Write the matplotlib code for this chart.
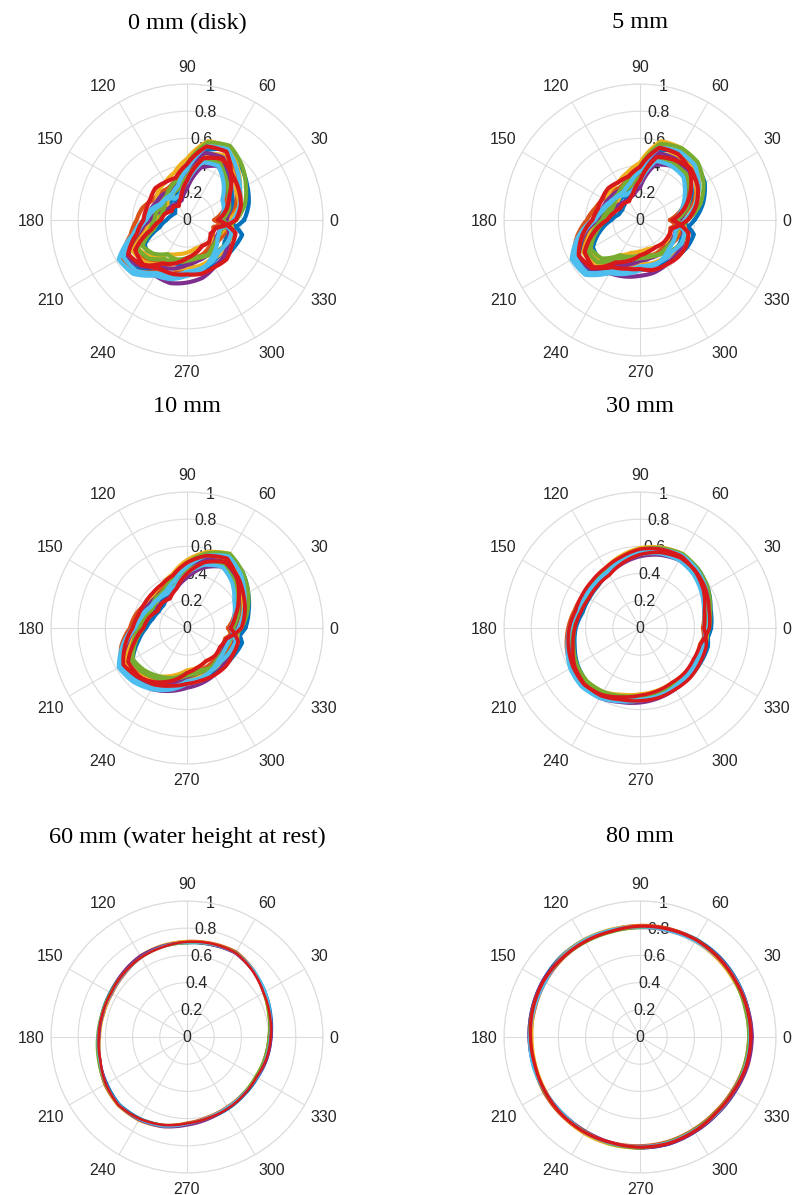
import numpy as np
import matplotlib
matplotlib.use('Agg')
import matplotlib.pyplot as plt

# angles (deg) at which the radii were read; a trace may run several revolutions
angles_deg = np.arange(0, 360, 15)
theta_ticks = list(range(0, 360, 30))
r_ticks = [0, 0.2, 0.4, 0.6, 0.8, 1.0]
r_tick_labels = ['0', '0.2', '0.4', '0.6', '0.8', '1']
titles = ['0 mm (disk)', '5 mm', '10 mm', '30 mm',
          '60 mm (water height at rest)', '80 mm']
colors = ['#0072BD', '#D95319', '#EDB120', '#7E2F8E', '#77AC30', '#4DBEEE', '#D7191C']

# radii in hundredths of unit radius (angles 0..345 step 15, repeated per revolution)
r_0mm = [
    [42, 47, 51, 56, 60, 53, 35, 23, 16, 12, 10, 12, 15, 21, 36, 38, 34, 33, 33, 37, 39, 39, 40, 42,
     30, 35, 38, 44, 49, 47, 30, 20, 18, 18, 19, 23, 26, 34, 50, 50, 44, 41, 39, 38, 36, 35, 32, 31],
    [20, 28, 32, 39, 49, 50, 36, 27, 27, 28, 29, 34, 37, 43, 55, 53, 44, 41, 34, 29, 27, 25, 22, 20,
     31, 37, 42, 50, 59, 56, 39, 30, 27, 26, 23, 25, 26, 32, 46, 42, 34, 32, 30, 28, 28, 27, 28, 30],
    [31, 40, 45, 53, 62, 60, 45, 36, 32, 30, 26, 26, 26, 31, 42, 38, 29, 26, 24, 22, 22, 23, 25, 28,
     35, 40, 42, 48, 55, 50, 33, 24, 22, 20, 16, 19, 22, 29, 46, 44, 38, 37, 35, 35, 34, 35, 34, 35],
    [29, 32, 35, 39, 46, 40, 23, 15, 14, 15, 16, 22, 27, 37, 53, 53, 47, 48, 46, 44, 40, 38, 35, 32,
     26, 31, 36, 44, 53, 51, 36, 27, 24, 26, 26, 28, 30, 38, 53, 48, 40, 37, 33, 31, 30, 27, 25, 25],
    [36, 44, 50, 57, 63, 59, 41, 30, 26, 22, 19, 19, 20, 25, 38, 35, 29, 30, 28, 28, 30, 32, 34, 35,
     26, 32, 35, 41, 48, 46, 31, 24, 22, 23, 21, 23, 24, 28, 42, 40, 33, 32, 30, 29, 30, 27, 26, 26],
    [24, 28, 30, 38, 46, 44, 28, 19, 18, 22, 23, 28, 32, 41, 58, 56, 47, 45, 41, 39, 34, 30, 26, 25,
     34, 40, 45, 52, 60, 56, 37, 26, 22, 22, 22, 26, 30, 38, 54, 53, 45, 42, 38, 37, 36, 33, 34, 34],
    [23, 30, 36, 46, 58, 56, 41, 32, 32, 33, 31, 31, 32, 38, 50, 47, 37, 33, 28, 25, 22, 23, 20, 22,
     36, 41, 44, 47, 52, 47, 29, 17, 12, 14, 13, 17, 19, 27, 44, 46, 41, 41, 40, 41, 40, 41, 38, 37],
]
r_5mm = [
    [40, 48, 55, 58, 58, 53, 34, 25, 19, 16, 15, 16, 21, 30, 40, 42, 34, 31, 30, 34, 37, 38, 40, 41,
     30, 38, 44, 50, 49, 48, 30, 23, 21, 21, 22, 25, 30, 41, 52, 52, 42, 37, 35, 35, 34, 34, 34, 32],
    [22, 32, 39, 46, 49, 50, 35, 29, 28, 29, 31, 34, 39, 48, 56, 55, 42, 37, 31, 28, 27, 26, 25, 23,
     31, 40, 48, 55, 57, 55, 37, 31, 28, 27, 26, 27, 30, 39, 48, 46, 34, 30, 28, 27, 28, 28, 30, 31],
    [31, 42, 50, 58, 61, 60, 42, 36, 32, 31, 28, 28, 30, 38, 45, 42, 30, 25, 23, 22, 23, 24, 28, 29,
     34, 42, 48, 54, 54, 50, 32, 26, 24, 22, 20, 22, 27, 37, 48, 47, 37, 34, 32, 33, 33, 34, 35, 35],
    [29, 36, 42, 46, 46, 42, 24, 19, 17, 18, 20, 24, 31, 43, 54, 55, 45, 43, 41, 40, 38, 37, 36, 33,
     27, 35, 43, 50, 52, 51, 35, 29, 26, 27, 28, 29, 33, 44, 54, 51, 39, 34, 30, 29, 29, 28, 28, 27],
    [35, 46, 54, 60, 61, 58, 39, 31, 27, 24, 22, 22, 25, 33, 42, 40, 30, 28, 26, 27, 29, 32, 35, 35,
     27, 36, 42, 48, 48, 47, 31, 26, 24, 25, 24, 25, 28, 36, 45, 44, 33, 30, 28, 28, 29, 28, 29, 28],
    [25, 32, 38, 45, 46, 45, 28, 22, 21, 24, 26, 29, 35, 47, 58, 57, 45, 41, 37, 36, 33, 30, 29, 27,
     33, 42, 50, 57, 58, 55, 36, 28, 24, 24, 25, 28, 33, 44, 55, 55, 43, 38, 34, 34, 34, 33, 35, 34],
    [24, 34, 43, 52, 56, 55, 39, 33, 32, 33, 32, 32, 35, 44, 52, 50, 36, 31, 26, 24, 23, 24, 24, 24,
     35, 43, 49, 53, 51, 48, 29, 20, 16, 17, 17, 20, 24, 35, 47, 49, 40, 37, 36, 38, 38, 39, 39, 37],
]
r_10mm = [
    [43, 47, 52, 58, 61, 53, 44, 34, 27, 24, 24, 26, 30, 37, 46, 45, 44, 40, 36, 38, 38, 39, 40, 42,
     36, 40, 45, 51, 54, 50, 41, 32, 29, 28, 29, 32, 36, 45, 54, 52, 50, 44, 40, 38, 36, 36, 35, 36],
    [30, 36, 41, 48, 54, 51, 45, 36, 34, 34, 35, 39, 42, 50, 56, 54, 50, 44, 37, 34, 32, 30, 29, 29,
     37, 42, 47, 54, 60, 55, 46, 38, 34, 32, 31, 34, 36, 43, 52, 48, 44, 39, 35, 32, 32, 32, 33, 35],
    [37, 43, 49, 56, 63, 58, 50, 41, 37, 35, 33, 34, 36, 43, 48, 45, 41, 36, 31, 30, 28, 29, 31, 34,
     39, 43, 47, 53, 58, 51, 43, 34, 31, 30, 27, 30, 34, 42, 52, 49, 46, 42, 38, 36, 36, 36, 36, 38],
    [35, 39, 43, 48, 52, 46, 37, 30, 26, 26, 27, 32, 38, 46, 56, 54, 52, 48, 44, 42, 40, 38, 37, 36,
     34, 38, 44, 51, 56, 52, 45, 36, 32, 32, 33, 35, 38, 47, 56, 51, 48, 42, 36, 34, 34, 32, 31, 32],
    [40, 46, 52, 58, 63, 57, 48, 38, 33, 30, 29, 30, 32, 39, 46, 44, 41, 38, 33, 32, 34, 35, 36, 38,
     34, 39, 43, 49, 53, 49, 42, 34, 31, 32, 30, 32, 35, 41, 48, 46, 43, 39, 35, 34, 34, 32, 32, 33],
    [32, 36, 40, 47, 52, 48, 40, 32, 29, 30, 31, 35, 40, 49, 58, 56, 52, 47, 41, 40, 36, 33, 32, 32,
     38, 43, 49, 56, 61, 55, 45, 36, 31, 30, 31, 34, 38, 47, 56, 54, 51, 45, 39, 38, 36, 35, 36, 37],
    [32, 37, 44, 52, 59, 55, 48, 40, 37, 36, 36, 37, 40, 47, 54, 51, 46, 40, 33, 30, 28, 29, 28, 30,
     40, 44, 48, 53, 56, 50, 40, 30, 25, 26, 25, 29, 32, 40, 50, 50, 48, 44, 41, 40, 40, 40, 39, 39],
]
r_30mm = [
    [52.5, 54, 58, 61, 62, 59, 56, 51.5, 46, 43.5, 43, 43.5, 47, 49.5, 53, 55.5, 55.5, 52.5, 51, 51.5, 51.5, 51.5, 51.5, 52,
     49, 50.5, 54.5, 57.5, 58.5, 57.5, 54.5, 50.5, 47, 45.5, 45.5, 46.5, 50, 53.5, 57, 59, 58.5, 54.5, 53, 52, 50.5, 50, 49, 49],
    [46, 48.5, 52.5, 56, 58.5, 58, 56.5, 52.5, 49.5, 48.5, 48.5, 50, 53, 56, 58.5, 60, 58.5, 54.5, 51.5, 49.5, 48, 47, 46, 45.5,
     49.5, 51.5, 55.5, 59, 61.5, 60, 57, 53.5, 49.5, 47.5, 46.5, 47.5, 50, 52.5, 56, 57, 55.5, 52, 50.5, 49, 48.5, 48, 48, 48.5],
    [49.5, 52, 56.5, 60, 63, 61.5, 59, 55, 51, 49, 47.5, 47.5, 50, 52.5, 54.5, 55.5, 54, 50.5, 48.5, 47.5, 46.5, 46.5, 47, 48,
     50.5, 52, 55.5, 58.5, 60.5, 58, 55.5, 51.5, 48, 46, 44.5, 45.5, 49, 52, 56, 57.5, 56.5, 53.5, 52, 51, 50, 50, 49.5, 50],
    [48.5, 50, 53.5, 56, 57.5, 55.5, 52.5, 49, 45.5, 44.5, 44.5, 46.5, 50.5, 54, 58, 60, 59.5, 56.5, 55, 53.5, 52, 51, 50, 49,
     48, 49.5, 54, 57.5, 59.5, 58.5, 56.5, 52.5, 48.5, 47.5, 47.5, 48, 51, 54.5, 58, 58.5, 57.5, 53.5, 51, 50, 49, 48, 47, 47],
    [51, 53.5, 58, 61, 63, 61, 58, 53.5, 49, 46.5, 45.5, 45.5, 48, 50.5, 53.5, 55, 54, 51.5, 49.5, 49, 49, 49.5, 49.5, 50,
     48, 50, 53.5, 56.5, 58, 57, 55, 51.5, 48, 47, 46, 46.5, 49.5, 51.5, 54.5, 56, 55, 52, 50.5, 49.5, 49, 48, 47.5, 47.5],
    [47, 48.5, 52, 55.5, 57.5, 56.5, 54, 50, 47, 46.5, 46.5, 48, 52, 55.5, 59.5, 61, 59.5, 56, 53.5, 52.5, 50, 48.5, 47.5, 47,
     50, 52, 56.5, 60, 62, 60, 56.5, 52.5, 48, 46.5, 46.5, 47.5, 51, 54.5, 58.5, 60, 59, 55, 52.5, 51.5, 50.5, 49.5, 49.5, 49.5],
    [47, 49, 54, 58, 61, 60, 58, 54, 51, 49.5, 49, 49, 52, 54.5, 57, 58.5, 56.5, 52.5, 49.5, 48, 46.5, 46.5, 45.5, 46,
     51, 52.5, 56, 58.5, 59.5, 57.5, 54, 49.5, 45, 44, 43.5, 45, 48, 51, 55.5, 58, 57.5, 54.5, 53.5, 53, 52, 52, 51, 50.5],
]
r_60mm = [
    [62, 64, 66.5, 69, 71.5, 70, 69, 69, 68, 66.5, 65.5, 65, 65, 66.5, 68, 70, 69, 67, 64, 62, 61, 60, 60, 61],
    [60, 62.5, 65.5, 69.5, 72.5, 71.5, 70.5, 69.5, 67.5, 65, 63.5, 63.5, 65, 67, 70, 71.5, 70, 67, 63, 60.5, 59, 58.5, 58.5, 59],
    [61, 62, 65, 68.5, 71.5, 71, 70.5, 70, 69, 66.5, 64, 63.5, 64, 66, 69.5, 71.5, 71, 68.5, 64.5, 61, 59.5, 58.5, 59, 60.5],
    [62, 63.5, 65, 68.5, 71, 70, 69.5, 69.5, 69, 67, 65, 64, 64.5, 66, 68.5, 71, 70.5, 68.5, 65, 62.5, 60, 58.5, 59.5, 61],
    [60, 62, 65, 69, 72, 70.5, 69, 68.5, 67.5, 66, 65, 65, 66, 67.5, 69.5, 71, 69.5, 67, 63.5, 61.5, 60, 58.5, 58, 59],
    [61, 63.5, 66.5, 69.5, 71.5, 70.5, 69.5, 69, 67.5, 65.5, 64, 64.5, 65.5, 66.5, 69, 70.5, 70, 68, 64, 61, 59.5, 59, 59.5, 60],
    [61.5, 63, 65, 68.5, 71.5, 71, 70, 68.5, 67.5, 66, 64.5, 64.5, 65, 66, 69, 71, 69.5, 67, 63.5, 61.5, 60.5, 59.5, 59, 60.5],
]
r_80mm = [
    [82, 82, 82.5, 83, 83, 82, 81.5, 81.5, 82.5, 83, 82.5, 82, 81.5, 81, 80.5, 80, 80.5, 81, 81.5, 81.5, 80.5, 80, 80.5, 81.5],
    [80, 80.5, 81, 81.5, 82.5, 82.5, 82, 81.5, 81, 81, 80.5, 80, 80, 80.5, 81.5, 81.5, 81.5, 80.5, 80, 79.5, 78.5, 78, 78.5, 79.5],
    [81.5, 81, 80.5, 81, 81.5, 81.5, 81.5, 82, 82.5, 82.5, 81.5, 80.5, 79.5, 79.5, 80, 81, 82, 82, 81.5, 80.5, 79.5, 79, 80, 81],
    [82.5, 82, 82, 82.5, 82, 81, 80.5, 80.5, 81, 82, 82.5, 82, 81.5, 81, 80.5, 80, 80, 80.5, 81.5, 81.5, 80.5, 80, 80.5, 82],
    [80, 80, 81, 82, 82.5, 81.5, 80.5, 80, 80.5, 81.5, 81.5, 81.5, 81, 81, 81, 80.5, 80.5, 81.5, 81.5, 80, 79, 78.5, 79, 79.5],
    [81, 81.5, 82, 82, 81.5, 81, 81, 81.5, 82, 82, 80.5, 80.5, 81, 81.5, 80.5, 80, 81, 81, 80.5, 80.5, 79.5, 79.5, 79.5, 80.5],
    [81.5, 81.5, 81.5, 82, 82.5, 82, 81.5, 80.5, 81, 81.5, 82, 81.5, 80.5, 80, 80.5, 81, 81, 80.5, 81, 81, 80, 79, 79.5, 81],
]

panels = [r_0mm, r_5mm, r_10mm, r_30mm, r_60mm, r_80mm]
line_widths = [3.0, 3.0, 2.8, 2.5, 1.8, 2.4]

W, H = 792, 1195
R = 136
centers = [(187, 220), (640, 220), (187, 628), (640, 628), (187, 1037), (640, 1037)]
title_y = [23, 23, 407, 407, 837, 837]

grid_col = '#dcdcdc'
txt_col = '#262626'
sans = ['Liberation Sans', 'DejaVu Sans']
serif = ['Liberation Serif', 'DejaVu Serif']

fig = plt.figure(figsize=(W / 100, H / 100), dpi=100)
fig.patch.set_facecolor('white')

for i, traces in enumerate(panels):
    cx, cy = centers[i]
    ax = fig.add_axes([(cx - R) / W, 1 - (cy + R) / H, 2 * R / W, 2 * R / H],
                      projection='polar')
    ax.set_ylim(0, 1)
    ax.set_xticks(np.deg2rad(theta_ticks))
    ax.set_xticklabels([])
    ax.set_yticks([0.2, 0.4, 0.6, 0.8, 1.0])
    ax.set_yticklabels([])
    ax.tick_params(length=0)
    ax.grid(True, color=grid_col, lw=0.8)
    ax.spines['polar'].set_color(grid_col)
    ax.spines['polar'].set_linewidth(0.8)
    ax.set_axisbelow(True)

    for k, vals in enumerate(traces):
        n_rev = len(vals) // len(angles_deg)
        th_deg = np.concatenate([angles_deg + 360 * j for j in range(n_rev)] + [[360 * n_rev]])
        r = np.append(vals, vals[0]) / 100.0
        ln, = ax.plot(np.deg2rad(th_deg), r, color=colors[k % len(colors)], lw=line_widths[i],
                      zorder=2, solid_joinstyle='round', solid_capstyle='round')
        # draw each segment as a curve in polar space (rendering only)
        ln.get_path()._interpolation_steps = 8

    for rv, lab in zip(r_ticks, r_tick_labels):
        ax.text(np.deg2rad(80), rv, lab, ha='center', va='center',
                fontsize=11.5, color=txt_col, zorder=1, family=sans)

    for a in theta_ticks:
        ar = np.deg2rad(a)
        c, s = np.cos(ar), np.sin(ar)
        ha = 'left' if c > 0.01 else ('right' if c < -0.01 else 'center')
        va = 'bottom' if s > 0.01 else ('top' if s < -0.01 else 'center_baseline')
        ax.annotate(str(a), xy=(ar, 1.0), xytext=(4.5 * c, 6.5 * s),
                    textcoords='offset points', ha=ha, va=va,
                    fontsize=11.5, color=txt_col, family=sans,
                    annotation_clip=False)

    fig.text(cx / W, 1 - title_y[i] / H, titles[i], ha='center', va='center',
             fontsize=17.5, color='black', family=serif)

fig.savefig('out.png', dpi=100, facecolor='white')
